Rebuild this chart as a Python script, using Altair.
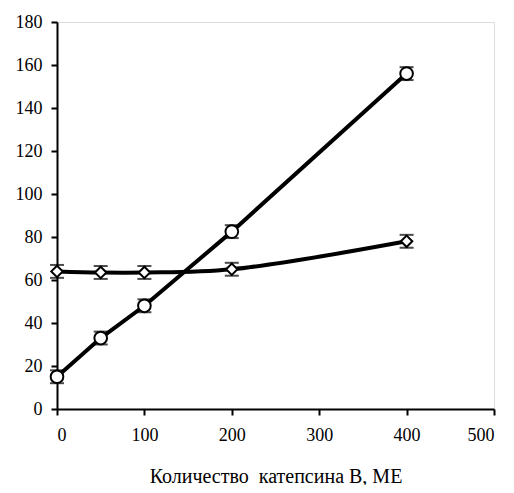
import altair as alt
import pandas as pd

x_vals = [0, 50, 100, 200, 400]
circle_y = [15, 33, 48, 82.5, 156]
circle_err = [3, 3, 3, 3, 3]
diamond_y = [64, 63.5, 63.5, 65, 78]
diamond_err = [3, 3, 3, 3, 3]

circ = pd.DataFrame({"x": x_vals, "y": circle_y, "lo": [a - b for a, b in zip(circle_y, circle_err)], "hi": [a + b for a, b in zip(circle_y, circle_err)]})
diam = pd.DataFrame({"x": x_vals, "y": diamond_y, "lo": [a - b for a, b in zip(diamond_y, diamond_err)], "hi": [a + b for a, b in zip(diamond_y, diamond_err)]})

FONT = "Liberation Serif"
xs = alt.Scale(domain=[0, 500], nice=False)
ys = alt.Scale(domain=[0, 180], nice=False)

xenc = alt.X("x:Q", scale=xs, axis=alt.Axis(
    title="Количество \u00a0катепсина В, МЕ", values=[0, 100, 200, 300, 400, 500],
    grid=False, domainColor="black", domainWidth=2, tickColor="black", tickWidth=2, tickSize=6,
    labelFont=FONT, titleFont=FONT,
    labelFontSize=18, labelColor="black", labelPadding=11,
    titleFontSize=20, titleFontWeight="normal", titleColor="black", titlePadding=22))
yenc = alt.Y("y:Q", scale=ys, axis=alt.Axis(
    title=None, values=list(range(0, 181, 20)),
    grid=False, domainColor="black", domainWidth=2, tickColor="black", tickWidth=2, tickSize=6,
    labelFont=FONT,
    labelFontSize=18, labelColor="black", labelPadding=9))


def series(df, shape, interp, size):
    base = alt.Chart(df)
    line = base.mark_line(color="black", strokeWidth=4, interpolate=interp).encode(x=xenc, y=yenc)
    rule = base.mark_rule(color="black", strokeWidth=2).encode(x="x:Q", y="lo:Q", y2="hi:Q")
    cap_lo = base.mark_tick(color="black", thickness=2, size=14, orient="horizontal").encode(x="x:Q", y="lo:Q")
    cap_hi = base.mark_tick(color="black", thickness=2, size=14, orient="horizontal").encode(x="x:Q", y="hi:Q")
    pts = base.mark_point(shape=shape, filled=True, fill="white", stroke="black", strokeWidth=2, size=size, opacity=1).encode(x="x:Q", y="y:Q")
    return [line, rule, cap_lo, cap_hi, pts]


chart = alt.layer(*(series(diam, "diamond", "catmull-rom", 130) + series(circ, "circle", "linear", 160))).properties(
    width=437, height=387,
    autosize=alt.AutoSizeParams(type="none"),
    padding={"left": 49, "top": 14, "right": 12, "bottom": 76},
).configure_view(stroke=None).configure(background="white")

chart.save("out.html", embed_options={"renderer": "svg", "actions": False})
